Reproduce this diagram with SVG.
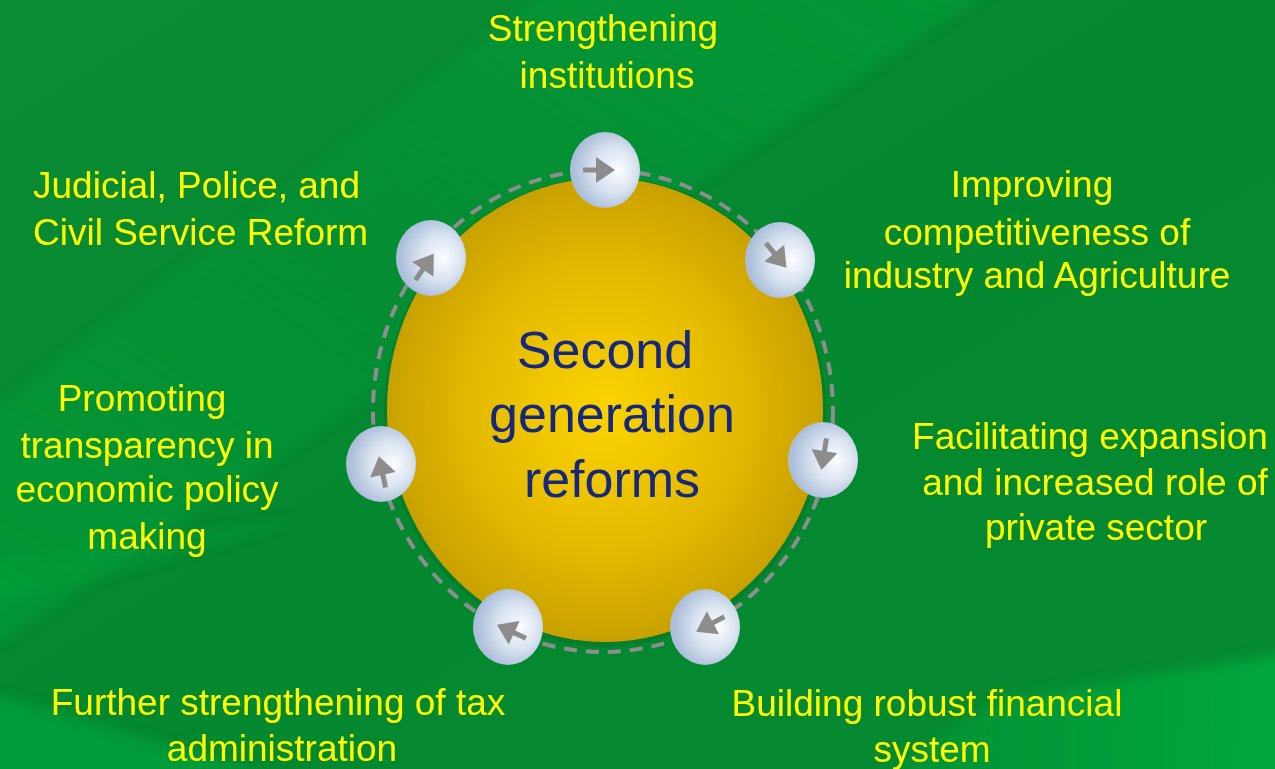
<svg xmlns="http://www.w3.org/2000/svg" width="1275" height="769" viewBox="0 0 1275 769">
  <defs>
    <linearGradient id="bgBase" x1="0" y1="0" x2="1" y2="1">
      <stop offset="0" stop-color="#0A8C33"/>
      <stop offset="0.5" stop-color="#03872F"/>
      <stop offset="1" stop-color="#068B31"/>
    </linearGradient>
    <linearGradient id="sweepA" x1="0" y1="1" x2="1" y2="0">
      <stop offset="0" stop-color="#00A43C" stop-opacity="0.55"/>
      <stop offset="0.5" stop-color="#00A43C" stop-opacity="0.15"/>
      <stop offset="1" stop-color="#00A43C" stop-opacity="0.6"/>
    </linearGradient>
    <linearGradient id="sweepC" x1="0" y1="0" x2="1" y2="0">
      <stop offset="0" stop-color="#00AA40" stop-opacity="0.2"/>
      <stop offset="1" stop-color="#00AA40" stop-opacity="0.9"/>
    </linearGradient>
    <filter id="soft" x="-10%" y="-10%" width="120%" height="120%">
      <feGaussianBlur stdDeviation="6"/>
    </filter>
    <radialGradient id="gold" cx="0.5" cy="0.5" r="0.5">
      <stop offset="0" stop-color="#FCD400"/>
      <stop offset="0.6" stop-color="#E4BA00"/>
      <stop offset="1" stop-color="#C9A100"/>
    </radialGradient>
    <radialGradient id="bead" cx="0.6" cy="0.5" r="0.55" fx="0.7" fy="0.5">
      <stop offset="0" stop-color="#FCFDFF"/>
      <stop offset="0.55" stop-color="#D9E3F0"/>
      <stop offset="1" stop-color="#ABBEDA"/>
    </radialGradient>
    <style>
      .lbl { font-family: "Liberation Sans", Arial, sans-serif; font-size: 37px; fill: #FFFF00; text-anchor: middle; }
      .core { font-family: "Liberation Sans", Arial, sans-serif; font-size: 52px; fill: #15287C; text-anchor: middle; }
      .bead { fill: url(#bead); }
      .ring { fill: none; stroke: #8E8E8E; stroke-width: 4; stroke-dasharray: 13 9; }
      .shaft { stroke: #8C8C8C; stroke-width: 5; }
      .head { fill: #8C8C8C; }
    </style>
  </defs>

  <!-- background with soft diagonal sweeps -->
  <rect width="1275" height="769" fill="url(#bgBase)"/>
  <g filter="url(#soft)">
    <polygon points="560,-20 1005,-20 0,640 -20,640 -20,420" fill="url(#sweepA)"/>
    <polygon points="-20,560 300,520 -20,610" fill="#00A43C" opacity="0.35"/>
    <polygon points="-20,690 320,790 -20,790" fill="#00A840" opacity="0.6"/>
    <polygon points="860,790 1000,700 1275,655 1295,655 1295,790" fill="url(#sweepC)"/>
  </g>

  <!-- central hub -->
  <g id="hub">
    <ellipse cx="605" cy="412" rx="221" ry="235" fill="#06702A" opacity="0.45"/>
    <ellipse cx="605" cy="410" rx="218" ry="232" fill="url(#gold)"/>
    <text class="core" x="605" y="368">Second</text>
    <text class="core" x="612" y="432">generation</text>
    <text class="core" x="612" y="497">reforms</text>
  </g>

  <!-- cycle path -->
  <g id="connectors">
    <ellipse class="ring" cx="603" cy="411" rx="230" ry="241"/>
  </g>

  <!-- stage nodes -->
  <g id="node-institutions">
    <ellipse class="bead" cx="605" cy="170" rx="35" ry="38"/>
    <g transform="translate(605,170) rotate(0)">
      <line class="shaft" x1="-22" y1="0" x2="-5" y2="0"/>
      <polygon class="head" points="-9,-13 10,0 -9,13"/>
    </g>
    <text class="lbl" x="603" y="41">Strengthening</text>
    <text class="lbl" x="607" y="88">institutions</text>
  </g>

  <g id="node-competitiveness">
    <ellipse class="bead" cx="780" cy="260" rx="35" ry="38"/>
    <g transform="translate(780,260) rotate(50)">
      <line class="shaft" x1="-22" y1="0" x2="-5" y2="0"/>
      <polygon class="head" points="-9,-13 10,0 -9,13"/>
    </g>
    <text class="lbl" x="1032" y="197">Improving</text>
    <text class="lbl" x="1037" y="245">competitiveness of</text>
    <text class="lbl" x="1037" y="288">industry and Agriculture</text>
  </g>

  <g id="node-private-sector">
    <ellipse class="bead" cx="823" cy="460" rx="35" ry="38"/>
    <g transform="translate(823,460) rotate(99)">
      <line class="shaft" x1="-22" y1="0" x2="-5" y2="0"/>
      <polygon class="head" points="-9,-13 10,0 -9,13"/>
    </g>
    <text class="lbl" x="1090" y="449">Facilitating expansion</text>
    <text class="lbl" x="1095" y="495">and increased role of</text>
    <text class="lbl" x="1096" y="540">private sector</text>
  </g>

  <g id="node-financial">
    <ellipse class="bead" cx="705" cy="627" rx="35" ry="38"/>
    <g transform="translate(705,627) rotate(152)">
      <line class="shaft" x1="-22" y1="0" x2="-5" y2="0"/>
      <polygon class="head" points="-9,-13 10,0 -9,13"/>
    </g>
    <text class="lbl" x="927" y="716">Building robust financial</text>
    <text class="lbl" x="932" y="762">system</text>
  </g>

  <g id="node-tax">
    <ellipse class="bead" cx="508" cy="627" rx="35" ry="38"/>
    <g transform="translate(506,629) rotate(205)">
      <line class="shaft" x1="-22" y1="0" x2="-5" y2="0"/>
      <polygon class="head" points="-9,-13 10,0 -9,13"/>
    </g>
    <text class="lbl" x="278" y="715">Further strengthening of tax</text>
    <text class="lbl" x="282" y="761">administration</text>
  </g>

  <g id="node-transparency">
    <ellipse class="bead" cx="381" cy="464" rx="35" ry="38"/>
    <g transform="translate(381,466) rotate(-102)">
      <line class="shaft" x1="-22" y1="0" x2="-5" y2="0"/>
      <polygon class="head" points="-9,-13 10,0 -9,13"/>
    </g>
    <text class="lbl" x="142" y="411">Promoting</text>
    <text class="lbl" x="147" y="458">transparency in</text>
    <text class="lbl" x="147" y="502">economic policy</text>
    <text class="lbl" x="147" y="549">making</text>
  </g>

  <g id="node-judicial">
    <ellipse class="bead" cx="431" cy="258" rx="35" ry="38"/>
    <g transform="translate(428,262) rotate(-55)">
      <line class="shaft" x1="-22" y1="0" x2="-5" y2="0"/>
      <polygon class="head" points="-9,-13 10,0 -9,13"/>
    </g>
    <text class="lbl" x="33" y="198" style="text-anchor:start">Judicial, Police, and</text>
    <text class="lbl" x="33" y="245" style="text-anchor:start">Civil Service Reform</text>
  </g>
</svg>
